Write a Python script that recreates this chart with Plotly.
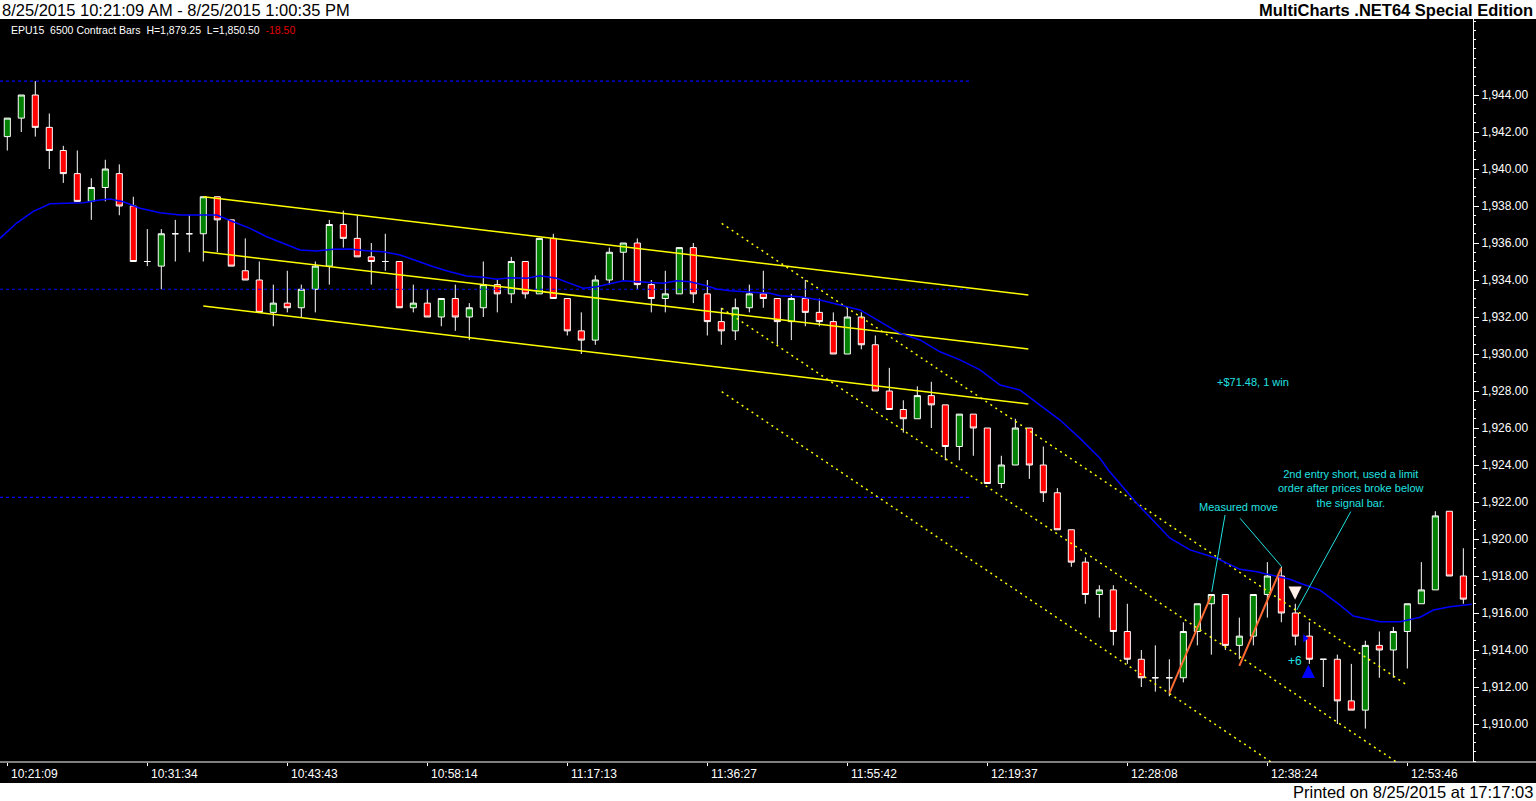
import plotly.graph_objects as go

# bars (one 6500 contract bar each)
opens = [1941.75, 1942.75, 1944.0, 1942.25, 1941.0, 1939.75, 1938.25, 1939.0, 1939.75, 1938.0,
         1935.0, 1934.75, 1936.5, 1936.5, 1936.5, 1938.5, 1937.25, 1934.5, 1934.0, 1932.25,
         1932.75, 1932.5, 1933.5, 1934.75, 1937.0, 1936.25, 1935.25, 1935.0, 1935.0, 1932.5,
         1932.75, 1932.0, 1933.0, 1932.0, 1932.5, 1933.75, 1933.25, 1935.0, 1933.25, 1936.25,
         1933.0, 1931.25, 1930.75, 1934.0, 1935.5, 1936.0, 1933.75, 1933.0, 1933.25, 1935.75,
         1933.25, 1931.75, 1931.25, 1932.5, 1933.25, 1933.0, 1931.75, 1933.0, 1932.25, 1931.75,
         1930.0, 1932.0, 1930.5, 1928.0, 1927.0, 1926.5, 1927.75, 1927.25, 1925.0, 1926.75,
         1926.0, 1923.0, 1924.0, 1926.0, 1924.0, 1922.5, 1920.5, 1918.75, 1917.0, 1917.25,
         1915.0, 1913.5, 1912.5, 1912.5, 1912.5, 1915.0, 1916.5, 1917.0, 1914.25, 1914.75,
         1917.0, 1918.0, 1916.0, 1914.75, 1913.5, 1913.5, 1911.25, 1910.75, 1914.25, 1914.0,
         1915.0, 1916.5, 1917.25, 1921.5, 1918.0]
highs = [1942.75, 1944.0, 1944.75, 1943.0, 1941.25, 1941.0, 1939.5, 1940.5, 1940.25, 1938.5,
         1936.75, 1936.75, 1937.25, 1937.5, 1938.5, 1938.5, 1937.25, 1936.25, 1935.0, 1933.75,
         1934.5, 1933.75, 1935.0, 1937.25, 1937.75, 1937.5, 1936.0, 1936.5, 1935.0, 1933.75,
         1933.5, 1933.0, 1933.75, 1932.75, 1935.0, 1934.0, 1935.25, 1935.0, 1936.25, 1936.5,
         1933.0, 1932.25, 1934.25, 1935.75, 1936.0, 1936.25, 1934.0, 1934.5, 1935.75, 1936.0,
         1934.0, 1932.5, 1933.0, 1933.75, 1934.5, 1933.0, 1933.25, 1934.0, 1933.0, 1932.25,
         1932.5, 1932.25, 1931.0, 1929.25, 1927.5, 1928.25, 1928.5, 1927.25, 1926.75, 1926.75,
         1926.0, 1924.5, 1926.5, 1926.0, 1925.0, 1922.75, 1920.5, 1919.0, 1917.5, 1917.5,
         1916.5, 1914.0, 1914.25, 1913.5, 1915.5, 1916.5, 1917.0, 1917.0, 1915.75, 1917.0,
         1918.75, 1918.5, 1916.5, 1915.5, 1913.5, 1913.75, 1913.25, 1914.5, 1915.0, 1915.25,
         1916.5, 1918.75, 1921.5, 1921.5, 1919.5]
lows = [1941.0, 1942.0, 1941.75, 1940.0, 1939.25, 1938.25, 1937.25, 1938.25, 1937.5, 1935.0,
        1934.75, 1933.5, 1935.0, 1935.5, 1935.0, 1935.5, 1934.75, 1934.0, 1932.25, 1931.5,
        1932.25, 1932.0, 1932.25, 1933.75, 1935.75, 1935.25, 1933.75, 1934.5, 1932.5, 1932.25,
        1932.0, 1931.5, 1931.25, 1930.75, 1932.0, 1932.25, 1932.75, 1933.0, 1933.25, 1933.0,
        1931.0, 1930.0, 1930.5, 1933.75, 1934.0, 1933.5, 1932.25, 1932.25, 1933.25, 1932.75,
        1931.0, 1930.5, 1930.75, 1932.25, 1932.5, 1930.5, 1930.75, 1931.5, 1931.5, 1930.0,
        1930.0, 1930.25, 1928.0, 1927.0, 1925.75, 1926.5, 1926.0, 1924.25, 1924.25, 1924.5,
        1923.0, 1922.75, 1924.0, 1923.25, 1922.0, 1920.5, 1918.5, 1916.5, 1915.75, 1914.25,
        1913.25, 1912.0, 1911.75, 1911.5, 1912.25, 1914.25, 1913.75, 1914.0, 1913.5, 1914.25,
        1915.75, 1915.5, 1914.25, 1913.25, 1912.0, 1910.0, 1910.75, 1909.75, 1912.5, 1912.5,
        1913.0, 1916.5, 1917.25, 1918.0, 1916.5]
closes = [1942.75, 1944.0, 1942.25, 1941.0, 1939.75, 1938.25, 1939.0, 1940.0, 1938.0, 1935.0,
          1935.0, 1936.5, 1936.5, 1936.5, 1938.5, 1937.25, 1934.75, 1934.0, 1932.25, 1932.75,
          1932.5, 1933.5, 1934.75, 1937.0, 1936.25, 1935.25, 1935.0, 1935.0, 1932.5, 1932.75,
          1932.0, 1933.0, 1932.0, 1932.5, 1933.75, 1933.25, 1935.0, 1933.25, 1936.25, 1933.0,
          1931.25, 1930.75, 1934.0, 1935.5, 1936.0, 1933.75, 1933.0, 1933.25, 1935.75, 1933.25,
          1931.75, 1931.25, 1932.5, 1933.25, 1933.0, 1931.75, 1933.0, 1932.25, 1931.75, 1930.0,
          1932.0, 1930.5, 1928.0, 1927.0, 1926.5, 1927.75, 1927.25, 1925.0, 1926.75, 1926.0,
          1923.0, 1924.0, 1926.0, 1924.0, 1922.5, 1920.5, 1918.75, 1917.0, 1917.25, 1915.0,
          1913.5, 1912.5, 1912.5, 1912.5, 1915.0, 1916.5, 1917.0, 1914.25, 1914.75, 1917.0,
          1918.0, 1916.0, 1914.75, 1913.5, 1913.5, 1911.25, 1910.75, 1914.25, 1914.0, 1915.0,
          1916.5, 1917.25, 1921.25, 1918.0, 1916.75]
bars = list(range(len(opens)))

# time axis labels, every 10 bars
time_ticks = [0, 10, 20, 30, 40, 50, 60, 70, 80, 90, 100]
time_labels = ['10:21:09', '10:31:34', '10:43:43', '10:58:14', '11:17:13', '11:36:27',
               '11:55:42', '12:19:37', '12:28:08', '12:38:24', '12:53:46']
price_ticks = [1910, 1912, 1914, 1916, 1918, 1920, 1922, 1924, 1926, 1928,
               1930, 1932, 1934, 1936, 1938, 1940, 1942, 1944]

# moving average (blue): bar position / price
ma_pos = [-0.52, 0.67, 1.86, 3.05, 4.24, 5.43, 6.62, 7.34, 8.29, 9.48, 10.91, 12.34, 13.76,
          14.96, 16.14, 17.34, 18.53, 19.71, 20.91, 22.1, 23.29, 24.48, 25.67, 26.86, 28.05,
          29.24, 30.43, 31.62, 32.81, 34.0, 34.96, 35.91, 37.1, 38.05, 39.24, 40.19, 41.14,
          42.1, 43.05, 44.0, 44.96, 45.91, 46.86, 47.81, 48.76, 49.74, 50.67, 51.62, 53.05,
          54.48, 55.19, 56.62, 58.05, 59.48, 60.91, 62.34, 63.76, 65.19, 66.62, 68.05, 69.48,
          70.91, 72.34, 73.76, 75.19, 76.62, 78.05, 78.64, 80.67, 83.05, 84.48, 86.39, 88.05,
          89.24, 91.62, 92.34, 93.76, 95.19, 96.14, 98.05, 99.48, 100.91, 101.86, 103.05, 104.6]
ma_val = [1936.25, 1937.08, 1937.71, 1938.12, 1938.15, 1938.18, 1938.32, 1938.38, 1938.23,
          1937.88, 1937.64, 1937.51, 1937.51, 1937.51, 1937.15, 1936.79, 1936.34, 1935.98,
          1935.62, 1935.57, 1935.66, 1935.68, 1935.58, 1935.53, 1935.35, 1935.04, 1934.72,
          1934.45, 1934.22, 1934.15, 1934.04, 1934.12, 1934.09, 1934.23, 1934.09, 1933.82,
          1933.55, 1933.64, 1933.82, 1933.96, 1933.91, 1933.88, 1933.82, 1933.96, 1933.91,
          1933.73, 1933.51, 1933.42, 1933.37, 1933.28, 1933.15, 1933.1, 1932.92, 1932.65,
          1932.38, 1931.75, 1931.12, 1930.76, 1930.12, 1929.68, 1929.14, 1928.32, 1928.05,
          1927.24, 1926.43, 1925.44, 1924.36, 1923.73, 1921.93, 1920.04, 1919.41, 1918.96,
          1918.36, 1918.23, 1917.82, 1917.61, 1917.24, 1916.43, 1915.84, 1915.53, 1915.53,
          1915.77, 1916.16, 1916.34, 1916.47]

# yellow trend channel (solid)
chan_x = [14.0, 72.93]
chan_top = [1938.5, 1933.19]
chan_mid = [1935.53, 1930.27]
chan_bot = [1932.59, 1927.3]

# yellow trend channel (dotted)
dch_x = [51.03, 99.96]
dch_top = [1937.06, 1912.11]
dch_mid = [1932.47, 1907.57]
dch_bot = [1927.96, 1903.0]

# blue dotted levels
level_x = [-0.52, 68.76]
levels = [1944.75, 1933.5, 1922.25]

# measured move legs (orange)
mm1_x, mm1_y = [83.0, 85.98], [1911.66, 1916.92]
mm2_x, mm2_y = [88.0, 90.98], [1913.14, 1918.42]

# note pointers (cyan)
ptr1_x, ptr1_y = [86.98, 86.03], [1921.3, 1917.15]
ptr2_x, ptr2_y = [88.05, 91.03], [1921.12, 1918.5]
ptr3_x, ptr3_y = [95.96, 92.1], [1921.48, 1916.16]

# trade marks: short entry (arrow tip), limit fill, cover (arrow tip)
short_x, short_y = 91.98, 1916.72
fill_x, fill_y = [92.69], [1914.63]
cover_x, cover_y = 92.93, 1913.2

YELLOW = '#ffff00'
CYAN = '#20e0e0'
ORANGE = '#ff6a33'
FONT = 'Liberation Sans, Arial, sans-serif'


def seg(x, y, color, width=1.5, dash='solid'):
    return go.Scatter(x=x, y=y, mode='lines', hoverinfo='skip', showlegend=False,
                      line=dict(color=color, width=width, dash=dash))


data = [go.Candlestick(x=bars, open=opens, high=highs, low=lows, close=closes,
                       increasing=dict(fillcolor='#008000', line=dict(color='white', width=1)),
                       decreasing=dict(fillcolor='#ff0000', line=dict(color='white', width=1)),
                       whiskerwidth=0, showlegend=False, hoverinfo='skip')]

for lv in levels:
    data.append(seg(level_x, [lv, lv], '#0000ff', 1.2, '3px,3px'))

data.append(seg(chan_x, chan_top, YELLOW))
data.append(seg(chan_x, chan_mid, YELLOW))
data.append(seg(chan_x, chan_bot, YELLOW))
data.append(seg(dch_x, dch_top, YELLOW, 1.5, '2px,4px'))
data.append(seg(dch_x, dch_mid, YELLOW, 1.5, '2px,4px'))
data.append(seg(dch_x, dch_bot, YELLOW, 1.5, '2px,4px'))

data.append(seg(ma_pos, ma_val, '#0000ff', 1.5))

data.append(seg(ptr1_x, ptr1_y, CYAN, 1))
data.append(seg(ptr2_x, ptr2_y, CYAN, 1))
data.append(seg(ptr3_x, ptr3_y, CYAN, 1))
data.append(seg(mm1_x, mm1_y, ORANGE, 2))
data.append(seg(mm2_x, mm2_y, ORANGE, 2))

data.append(go.Scatter(x=fill_x, y=fill_y, mode='markers', hoverinfo='skip', showlegend=False,
                       marker=dict(symbol='triangle-right', size=7, color='#0000ff')))

# plot area in pixels: x 0..1473, y 19..762
W, H = 1536, 801
L, R, T, B = 0, 63, 19, 39


def px(x):
    return x / (W - L - R)


def py(y):
    return (H - B - y) / (H - T - B)


annotations = [
    dict(text='8/25/2015 10:21:09 AM - 8/25/2015 1:00:35 PM', xref='paper', yref='paper',
         x=px(0), y=py(10), xanchor='left', yanchor='middle', showarrow=False,
         font=dict(family=FONT, size=16.5, color='black')),
    dict(text='<b>MultiCharts .NET64 Special Edition</b>', xref='paper', yref='paper',
         x=px(1535), y=py(10), xanchor='right', yanchor='middle', showarrow=False,
         font=dict(family=FONT, size=16.5, color='black')),
    dict(text='Printed on 8/25/2015 at 17:17:03', xref='paper', yref='paper',
         x=px(1535), y=py(792), xanchor='right', yanchor='middle', showarrow=False,
         font=dict(family=FONT, size=16.5, color='black')),
    dict(text="EPU15&nbsp; 6500 Contract Bars&nbsp; H=1,879.25&nbsp; L=1,850.50&nbsp; "
              "<span style='color:#e00000'>-18.50</span>",
         xref='paper', yref='paper', x=px(9), y=py(30), xanchor='left', yanchor='middle',
         showarrow=False, font=dict(family=FONT, size=10.5, color='white')),
    dict(text='+$71.48, 1 win', x=88.97, y=1928.5, showarrow=False,
         font=dict(family=FONT, size=11, color=CYAN)),
    dict(text='2nd entry short, used a limit<br>order after prices broke below<br>the signal bar.',
         x=96.01, y=1922.73, showarrow=False,
         font=dict(family=FONT, size=11, color=CYAN)),
    dict(text='Measured move', x=87.96, y=1921.71, showarrow=False,
         font=dict(family=FONT, size=11, color=CYAN)),
    dict(text='+6', x=91.98, y=1913.42, showarrow=False,
         font=dict(family=FONT, size=12, color=CYAN)),
    # short entry arrow (white, pointing down) and cover arrow (blue, pointing up)
    dict(text='', x=short_x, y=short_y, ax=0, ay=-13, showarrow=True, arrowhead=2,
         arrowsize=0.75, arrowwidth=3.5, arrowcolor='#fff0e8'),
    dict(text='', x=cover_x, y=cover_y, ax=0, ay=13, showarrow=True, arrowhead=2,
         arrowsize=0.75, arrowwidth=3.5, arrowcolor='#0000ff'),
]
for t, lab in zip(time_ticks, time_labels):
    annotations.append(dict(text=lab, x=t, xref='x', yref='paper', y=py(774),
                            xanchor='left', yanchor='middle', xshift=2, showarrow=False,
                            font=dict(family=FONT, size=12, color='white')))

shapes = [
    # black chart body incl. price scale and time scale strips
    dict(type='rect', xref='paper', yref='paper', x0=px(0), x1=px(W), y0=py(783), y1=py(19),
         fillcolor='black', line=dict(width=0), layer='below'),
    # time scale line runs under the price scale too
    dict(type='line', xref='paper', yref='paper', x0=px(0), x1=px(W), y0=py(762), y1=py(762),
         line=dict(color='white', width=1)),
]

layout = dict(
    width=W, height=H,
    margin=dict(l=L, r=R, t=T, b=B, pad=0),
    paper_bgcolor='white',
    plot_bgcolor='black',
    showlegend=False,
    boxgap=0.38,
    xaxis=dict(range=[-0.521, 104.69], showgrid=False, zeroline=False, showline=False,
               tickmode='array', tickvals=time_ticks, ticks='outside', ticklen=3,
               tickcolor='white', showticklabels=False, rangeslider=dict(visible=False),
               fixedrange=True),
    yaxis=dict(range=[1907.946, 1948.108], side='right', showgrid=False, zeroline=False,
               showline=True, linecolor='white', linewidth=1,
               tickmode='array', tickvals=price_ticks, tickformat=',.2f',
               ticks='outside', ticklen=5, tickcolor='white',
               tickfont=dict(family=FONT, size=12, color='white'),
               minor=dict(ticks='outside', dtick=0.5, tick0=1900, ticklen=2, tickcolor='white'),
               fixedrange=True),
    annotations=annotations,
    shapes=shapes,
)

fig = go.Figure(data=data, layout=layout)
fig.write_html('out.html', config=dict(displayModeBar=False),
               post_script="document.body.style.margin='0';document.body.style.overflow='hidden';")
